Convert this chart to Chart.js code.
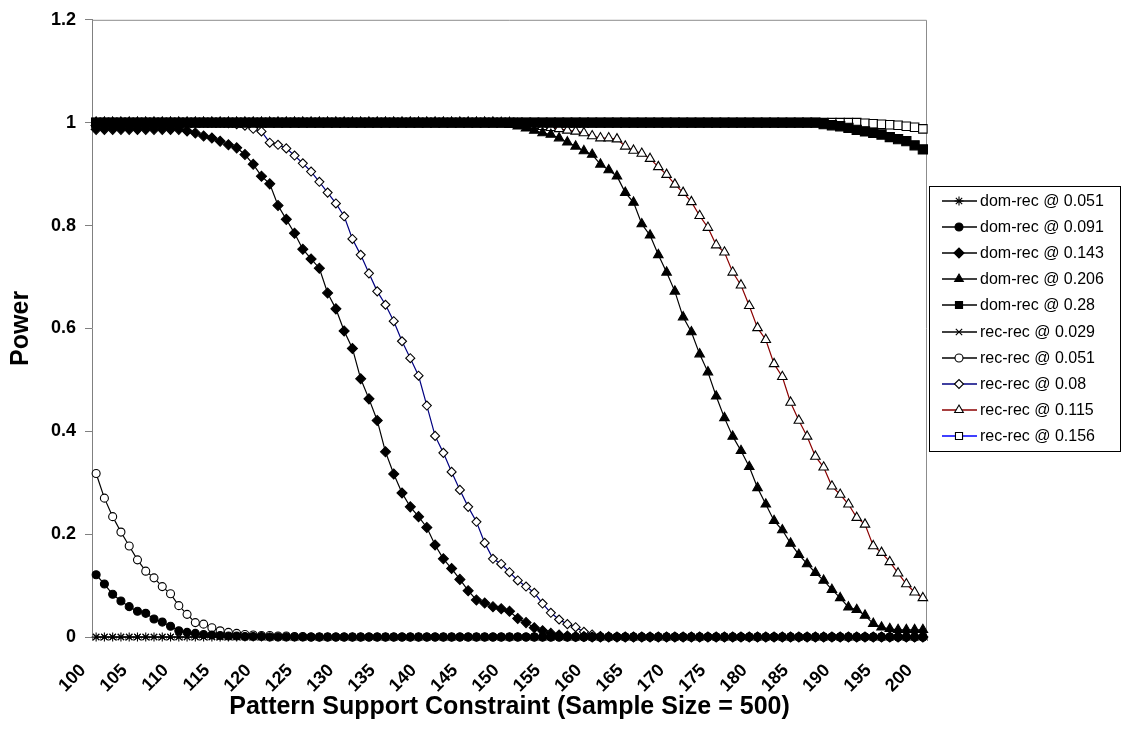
<!DOCTYPE html>
<html lang="en">
<head>
<meta charset="UTF-8">
<title>Power vs Pattern Support Constraint</title>
<script src="https://cdn.jsdelivr.net/npm/chart.js"></script>
<style>
  html, body { margin: 0; padding: 0; background: #fff; }
  #wrap { width: 1122px; height: 742px; }
</style>
</head>
<body>
<div id="wrap"><canvas id="powerChart" width="1122" height="742"></canvas></div>
<script>
// support constraint values on the x axis (one category each)
const supportValues = [
  100, 101, 102, 103, 104, 105, 106, 107, 108, 109,
  110, 111, 112, 113, 114, 115, 116, 117, 118, 119,
  120, 121, 122, 123, 124, 125, 126, 127, 128, 129,
  130, 131, 132, 133, 134, 135, 136, 137, 138, 139,
  140, 141, 142, 143, 144, 145, 146, 147, 148, 149,
  150, 151, 152, 153, 154, 155, 156, 157, 158, 159,
  160, 161, 162, 163, 164, 165, 166, 167, 168, 169,
  170, 171, 172, 173, 174, 175, 176, 177, 178, 179,
  180, 181, 182, 183, 184, 185, 186, 187, 188, 189,
  190, 191, 192, 193, 194, 195, 196, 197, 198, 199,
  200
];

const yTicks = [0, 0.2, 0.4, 0.6, 0.8, 1, 1.2];

// power values, one per support value (100 .. 200)
const domRec051 = [
  0, 0, 0, 0, 0, 0, 0, 0, 0, 0,
  0, 0, 0, 0, 0, 0, 0, 0, 0, 0,
  0, 0, 0, 0, 0, 0, 0, 0, 0, 0,
  0, 0, 0, 0, 0, 0, 0, 0, 0, 0,
  0, 0, 0, 0, 0, 0, 0, 0, 0, 0,
  0, 0, 0, 0, 0, 0, 0, 0, 0, 0,
  0, 0, 0, 0, 0, 0, 0, 0, 0, 0,
  0, 0, 0, 0, 0, 0, 0, 0, 0, 0,
  0, 0, 0, 0, 0, 0, 0, 0, 0, 0,
  0, 0, 0, 0, 0, 0, 0, 0, 0, 0,
  0
];
const domRec091 = [
  0.121, 0.103, 0.083, 0.070, 0.059, 0.050, 0.046, 0.035, 0.029, 0.021,
  0.012, 0.009, 0.007, 0.005, 0.004, 0.003, 0.002, 0.002, 0.001, 0.001,
  0.001, 0, 0, 0, 0, 0, 0, 0, 0, 0,
  0, 0, 0, 0, 0, 0, 0, 0, 0, 0,
  0, 0, 0, 0, 0, 0, 0, 0, 0, 0,
  0, 0, 0, 0, 0, 0, 0, 0, 0, 0,
  0, 0, 0, 0, 0, 0, 0, 0, 0, 0,
  0, 0, 0, 0, 0, 0, 0, 0, 0, 0,
  0, 0, 0, 0, 0, 0, 0, 0, 0, 0,
  0, 0, 0, 0, 0, 0, 0, 0, 0, 0,
  0
];
const domRec143 = [
  0.987, 0.987, 0.987, 0.987, 0.987, 0.987, 0.987, 0.987, 0.987, 0.987,
  0.987, 0.984, 0.980, 0.974, 0.970, 0.964, 0.957, 0.951, 0.938, 0.919,
  0.896, 0.881, 0.839, 0.812, 0.785, 0.754, 0.735, 0.717, 0.669, 0.638,
  0.595, 0.561, 0.502, 0.463, 0.421, 0.360, 0.317, 0.280, 0.253, 0.234,
  0.213, 0.179, 0.152, 0.133, 0.112, 0.090, 0.072, 0.066, 0.059, 0.055,
  0.050, 0.036, 0.028, 0.018, 0.012, 0.007, 0.004, 0.002, 0.001, 0.001,
  0, 0, 0, 0, 0, 0, 0, 0, 0, 0,
  0, 0, 0, 0, 0, 0, 0, 0, 0, 0,
  0, 0, 0, 0, 0, 0, 0, 0, 0, 0,
  0, 0, 0, 0, 0, 0, 0, 0, 0, 0,
  0
];
const domRec206 = [
  1, 1, 1, 1, 1, 1, 1, 1, 1, 1,
  1, 1, 1, 1, 1, 1, 1, 1, 1, 1,
  1, 1, 1, 1, 1, 1, 1, 1, 1, 1,
  1, 1, 1, 1, 1, 1, 1, 1, 1, 1,
  1, 1, 1, 1, 1, 1, 1, 1, 1, 0.998,
  0.996, 0.993, 0.989, 0.985, 0.980, 0.977, 0.970, 0.962, 0.954, 0.945,
  0.938, 0.919, 0.908, 0.896, 0.864, 0.845, 0.803, 0.781, 0.743, 0.709,
  0.672, 0.622, 0.593, 0.550, 0.515, 0.468, 0.426, 0.390, 0.362, 0.331,
  0.290, 0.258, 0.226, 0.208, 0.182, 0.160, 0.142, 0.125, 0.110, 0.092,
  0.076, 0.058, 0.053, 0.042, 0.026, 0.019, 0.016, 0.014, 0.014, 0.014,
  0.014
];
const domRec28 = [
  1, 1, 1, 1, 1, 1, 1, 1, 1, 1,
  1, 1, 1, 1, 1, 1, 1, 1, 1, 1,
  1, 1, 1, 1, 1, 1, 1, 1, 1, 1,
  1, 1, 1, 1, 1, 1, 1, 1, 1, 1,
  1, 1, 1, 1, 1, 1, 1, 1, 1, 1,
  1, 1, 1, 1, 1, 1, 1, 1, 1, 1,
  1, 1, 1, 1, 1, 1, 1, 1, 1, 1,
  1, 1, 1, 1, 1, 1, 1, 1, 1, 1,
  1, 1, 1, 1, 1, 1, 1, 1, 0.997, 0.995,
  0.993, 0.990, 0.986, 0.983, 0.980, 0.977, 0.972, 0.968, 0.964, 0.956,
  0.948
];
const recRec029 = [
  0, 0, 0, 0, 0, 0, 0, 0, 0, 0,
  0, 0, 0, 0, 0, 0, 0, 0, 0, 0,
  0, 0, 0, 0, 0, 0, 0, 0, 0, 0,
  0, 0, 0, 0, 0, 0, 0, 0, 0, 0,
  0, 0, 0, 0, 0, 0, 0, 0, 0, 0,
  0, 0, 0, 0, 0, 0, 0, 0, 0, 0,
  0, 0, 0, 0, 0, 0, 0, 0, 0, 0,
  0, 0, 0, 0, 0, 0, 0, 0, 0, 0,
  0, 0, 0, 0, 0, 0, 0, 0, 0, 0,
  0, 0, 0, 0, 0, 0, 0, 0, 0, 0,
  0
];
const recRec051 = [
  0.318, 0.270, 0.234, 0.204, 0.177, 0.150, 0.128, 0.115, 0.098, 0.084,
  0.061, 0.044, 0.028, 0.025, 0.018, 0.012, 0.009, 0.007, 0.005, 0.004,
  0.003, 0.003, 0.002, 0.002, 0.001, 0.001, 0, 0, 0, 0,
  0, 0, 0, 0, 0, 0, 0, 0, 0, 0,
  0, 0, 0, 0, 0, 0, 0, 0, 0, 0,
  0, 0, 0, 0, 0, 0, 0, 0, 0, 0,
  0, 0, 0, 0, 0, 0, 0, 0, 0, 0,
  0, 0, 0, 0, 0, 0, 0, 0, 0, 0,
  0, 0, 0, 0, 0, 0, 0, 0, 0, 0,
  0, 0, 0, 0, 0, 0, 0, 0, 0, 0,
  0
];
const recRec08 = [
  1, 1, 1, 1, 1, 1, 1, 1, 1, 1,
  1, 1, 1, 1, 1, 1, 0.999, 0.997, 0.994, 0.988,
  0.983, 0.961, 0.957, 0.950, 0.936, 0.921, 0.905, 0.885, 0.864, 0.843,
  0.818, 0.774, 0.743, 0.707, 0.672, 0.646, 0.614, 0.575, 0.542, 0.508,
  0.450, 0.391, 0.358, 0.321, 0.286, 0.253, 0.224, 0.183, 0.152, 0.142,
  0.126, 0.110, 0.098, 0.086, 0.065, 0.047, 0.034, 0.025, 0.019, 0.010,
  0.005, 0.002, 0.001, 0, 0, 0, 0, 0, 0, 0,
  0, 0, 0, 0, 0, 0, 0, 0, 0, 0,
  0, 0, 0, 0, 0, 0, 0, 0, 0, 0,
  0, 0, 0, 0, 0, 0, 0, 0, 0, 0,
  0
];
const recRec115 = [
  1, 1, 1, 1, 1, 1, 1, 1, 1, 1,
  1, 1, 1, 1, 1, 1, 1, 1, 1, 1,
  1, 1, 1, 1, 1, 1, 1, 1, 1, 1,
  1, 1, 1, 1, 1, 1, 1, 1, 1, 1,
  1, 1, 1, 1, 1, 1, 1, 1, 1, 1,
  1, 0.998, 0.996, 0.994, 0.992, 0.990, 0.988, 0.985, 0.983, 0.980,
  0.974, 0.970, 0.970, 0.968, 0.954, 0.946, 0.940, 0.930, 0.914, 0.899,
  0.880, 0.864, 0.846, 0.819, 0.796, 0.762, 0.748, 0.709, 0.684, 0.644,
  0.601, 0.578, 0.531, 0.506, 0.456, 0.421, 0.390, 0.351, 0.330, 0.293,
  0.277, 0.258, 0.232, 0.219, 0.177, 0.164, 0.146, 0.124, 0.103, 0.087,
  0.076
];
const recRec156 = [
  1, 1, 1, 1, 1, 1, 1, 1, 1, 1,
  1, 1, 1, 1, 1, 1, 1, 1, 1, 1,
  1, 1, 1, 1, 1, 1, 1, 1, 1, 1,
  1, 1, 1, 1, 1, 1, 1, 1, 1, 1,
  1, 1, 1, 1, 1, 1, 1, 1, 1, 1,
  1, 1, 1, 1, 1, 1, 1, 1, 1, 1,
  1, 1, 1, 1, 1, 1, 1, 1, 1, 1,
  1, 1, 1, 1, 1, 1, 1, 1, 1, 1,
  1, 1, 1, 1, 1, 1, 1, 1, 1, 1,
  1, 1, 1, 0.999, 0.998, 0.997, 0.996, 0.995, 0.993, 0.991,
  0.988
];

const seriesNames = [
  'dom-rec @ 0.051', 'dom-rec @ 0.091', 'dom-rec @ 0.143', 'dom-rec @ 0.206', 'dom-rec @ 0.28',
  'rec-rec @ 0.029', 'rec-rec @ 0.051', 'rec-rec @ 0.08', 'rec-rec @ 0.115', 'rec-rec @ 0.156'
];

Chart.defaults.font.family = '"Liberation Sans", Arial, sans-serif';
Chart.defaults.color = '#000';

function series(i, data, style, radius, filled, lineColor) {
    return {
        label: seriesNames[i],
        data: data,
        borderColor: lineColor,
        borderWidth: 1.2,
        pointStyle: style,
        pointRadius: radius,
        pointBackgroundColor: filled ? '#000' : '#fff',
        pointBorderColor: '#000',
        pointBorderWidth: 1.1,
        tension: 0,
        clip: false
    };
}

const datasets = [
    series(0, domRec051, 'star', 4.5, true, '#000'),
    series(1, domRec091, 'circle', 4, true, '#000'),
    series(2, domRec143, 'rectRot', 5, true, '#000'),
    series(3, domRec206, 'triangle', 5.5, true, '#000'),
    series(4, domRec28, 'rect', 6.5, true, '#000'),
    series(5, recRec029, 'crossRot', 4.5, true, '#000'),
    series(6, recRec051, 'circle', 4, false, '#000'),
    series(7, recRec08, 'rectRot', 4.5, false, '#000080'),
    series(8, recRec115, 'triangle', 5.5, false, '#8b0000'),
    series(9, recRec156, 'rect', 6, false, '#0000ff')
];

// grey frame round the plot area (top and right side)
const plotFrame = {
    id: 'plotFrame',
    beforeDatasetsDraw(chart) {
        const {ctx, chartArea: a} = chart;
        ctx.save();
        ctx.strokeStyle = '#8c8c8c';
        ctx.lineWidth = 1;
        ctx.beginPath();
        ctx.moveTo(a.left, a.top + 0.5);
        ctx.lineTo(a.right - 0.5, a.top + 0.5);
        ctx.lineTo(a.right - 0.5, a.bottom);
        ctx.stroke();
        ctx.restore();
    }
};

// boxed legend on the right, line + marker + text like the original
const boxLegend = {
    id: 'boxLegend',
    afterDraw(chart) {
        const ctx = chart.ctx;
        ctx.save();
        ctx.fillStyle = '#fff';
        ctx.fillRect(929.5, 186.5, 191, 265);
        ctx.strokeStyle = '#000';
        ctx.lineWidth = 1;
        ctx.strokeRect(929.5, 186.5, 191, 265);
        chart.data.datasets.forEach((ds, i) => {
            const y = Math.round(201 + i * 26.1);
            ctx.strokeStyle = ds.borderColor;
            ctx.lineWidth = 1.3;
            ctx.beginPath();
            ctx.moveTo(942, y);
            ctx.lineTo(977, y);
            ctx.stroke();
            ctx.fillStyle = ds.pointBackgroundColor;
            ctx.strokeStyle = '#000';
            ctx.lineWidth = 1.1;
            Chart.helpers.drawPoint(ctx, {
                pointStyle: ds.pointStyle,
                radius: Math.min(ds.pointRadius, 5),
                rotation: 0,
                borderWidth: 1.1
            }, 959, y);
            ctx.fillStyle = '#000';
            ctx.font = '16px "Liberation Sans", Arial, sans-serif';
            ctx.textAlign = 'left';
            ctx.textBaseline = 'middle';
            ctx.fillText(ds.label, 980, y + 1);
        });
        ctx.restore();
    }
};

new Chart(document.getElementById('powerChart'), {
    type: 'line',
    data: {
        labels: supportValues,
        datasets: datasets
    },
    options: {
        responsive: false,
        animation: false,
        layout: { padding: { top: 16, right: 195, bottom: 0, left: 0 } },
        plugins: {
            legend: { display: false },
            tooltip: { enabled: false }
        },
        scales: {
            x: {
                type: 'category',
                offset: true,
                grid: { drawOnChartArea: false, offset: true, tickLength: 4, color: '#808080' },
                border: { color: '#808080' },
                ticks: {
                    autoSkip: false,
                    minRotation: 45,
                    maxRotation: 45,
                    padding: 19,
                    labelOffset: -13,
                    color: '#000',
                    font: { size: 18, weight: 'bold' },
                    callback: function (value, index) {
                        const v = supportValues[index];
                        return v % 5 === 0 ? String(v) : '';
                    }
                },
                title: {
                    display: true,
                    text: 'Pattern Support Constraint (Sample Size = 500)',
                    color: '#000',
                    font: { size: 25, weight: 'bold' },
                    padding: { top: 0, bottom: 20 }
                },
                afterFit: function (scale) { scale.height = 105; }
            },
            y: {
                min: yTicks[0],
                max: yTicks[yTicks.length - 1],
                afterBuildTicks: function (scale) {
                    scale.ticks = yTicks.map(v => ({ value: v }));
                },
                grid: { drawOnChartArea: false, tickLength: 7, color: '#808080' },
                border: { color: '#808080' },
                ticks: {
                    padding: 9,
                    color: '#000',
                    font: { size: 18, weight: 'bold' },
                    callback: function (value) {
                        return String(Number(value.toFixed(1)));
                    }
                },
                title: {
                    display: true,
                    text: 'Power',
                    color: '#000',
                    font: { size: 25, weight: 'bold' },
                    padding: { top: 6, bottom: 0 }
                },
                afterFit: function (scale) { scale.width = 92; }
            }
        }
    },
    plugins: [plotFrame, boxLegend]
});
</script>
</body>
</html>
